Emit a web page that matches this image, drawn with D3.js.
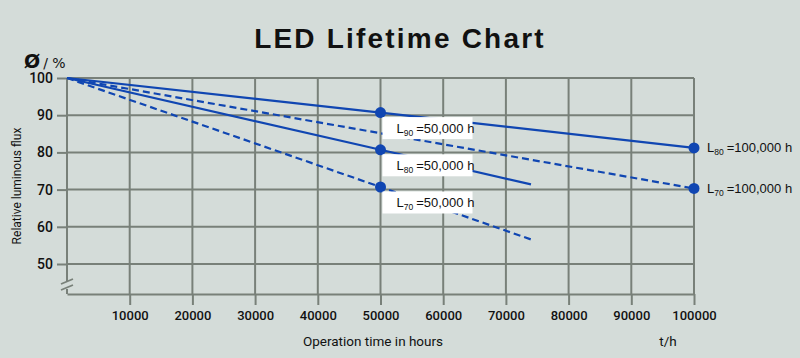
<!DOCTYPE html>
<html>
<head>
<meta charset="utf-8">
<script src="https://cdn.jsdelivr.net/npm/d3@7"></script>
<style>
  html, body { margin: 0; padding: 0; background: #d4dcd9; }
  svg { display: block; }
  .tick text { font-family: Roboto, sans-serif; fill: #111; }
</style>
</head>
<body>
<div id="graphic"></div>
<script>
// data
const xTicks = [10000, 20000, 30000, 40000, 50000, 60000, 70000, 80000, 90000, 100000];
const yTicks = [50, 60, 70, 80, 90, 100];

// hours / relative flux
const solidAHours = [0, 50000, 100000];
const solidAFlux  = [100, 90.7, 81.2];
const dashAHours  = [0, 100000];
const dashAFlux   = [100, 70.3];
const solidBHours = [0, 50000, 74000];
const solidBFlux  = [100, 80.7, 71.4];
const dashBHours  = [0, 50000, 74000];
const dashBFlux   = [100, 70.7, 56.6];

// marked points
const markHours = [50000, 50000, 50000, 100000, 100000];
const markFlux  = [90.7, 80.7, 70.7, 81.2, 70.3];

// labels
const boxLabels   = [["90", "50,000 h"], ["80", "50,000 h"], ["70", "50,000 h"]];
const rightLabels = [["80", "100,000 h"], ["70", "100,000 h"]];

/** CONSTANTS */
const W = 800, H = 358,
  plotL = 67, plotR = 694, plotT = 78, plotB = 294,
  grid = "#788079", blue = "#1046b2";

const svg = d3.select("#graphic").append("svg")
  .attr("width", W)
  .attr("height", H);

svg.append("rect").attr("width", W).attr("height", H).attr("fill", "#d4dcd9");

const x = d3.scaleLinear().domain([0, 100000]).range([plotL, plotR]);
const y = d3.scaleLinear().domain([50, 100]).range([264, plotT]);

// title
svg.append("text")
  .attr("x", 400).attr("y", 48)
  .attr("text-anchor", "middle")
  .attr("font-family", "Liberation Sans, Arial, sans-serif")
  .attr("font-weight", "bold")
  .attr("font-size", 28)
  .attr("letter-spacing", 2.2)
  .attr("fill", "#111")
  .text("LED Lifetime Chart");

// grid
svg.append("g").selectAll("line")
  .data(yTicks)
  .enter().append("line")
  .attr("x1", plotL).attr("x2", plotR)
  .attr("y1", d => y(d)).attr("y2", d => y(d))
  .attr("stroke", grid).attr("stroke-width", 2);

svg.append("g").selectAll("line")
  .data(xTicks)
  .enter().append("line")
  .attr("x1", d => x(d)).attr("x2", d => x(d))
  .attr("y1", plotT).attr("y2", plotB)
  .attr("stroke", grid).attr("stroke-width", 2);

// x axis
const xAxis = d3.axisBottom(x)
  .tickValues(xTicks)
  .tickFormat(d3.format("d"))
  .tickSize(11)
  .tickSizeOuter(0)
  .tickPadding(6);

const gx = svg.append("g")
  .attr("transform", `translate(0,${plotB})`)
  .call(xAxis);
gx.select(".domain").attr("stroke", grid).attr("stroke-width", 2);
gx.selectAll(".tick line").attr("stroke", grid).attr("stroke-width", 2);
gx.selectAll(".tick text").attr("font-size", 13).attr("font-weight", 500);

// y axis
const yAxis = d3.axisLeft(y)
  .tickValues(yTicks)
  .tickSize(10)
  .tickPadding(4);

const gy = svg.append("g")
  .attr("transform", `translate(${plotL},0)`)
  .call(yAxis);
gy.select(".domain").remove();
gy.selectAll(".tick line").attr("stroke", grid).attr("stroke-width", 2);
gy.selectAll(".tick text").attr("font-size", 14).attr("font-weight", 500);

// y axis line with break
svg.append("line")
  .attr("x1", plotL).attr("x2", plotL).attr("y1", plotT).attr("y2", 281)
  .attr("stroke", grid).attr("stroke-width", 2);
svg.append("line")
  .attr("x1", plotL).attr("x2", plotL).attr("y1", 289).attr("y2", plotB)
  .attr("stroke", grid).attr("stroke-width", 2);
[0, 6].forEach(off => {
  svg.append("line")
    .attr("x1", plotL - 6).attr("y1", 284 + off)
    .attr("x2", plotL + 6).attr("y2", 279 + off)
    .attr("stroke", grid).attr("stroke-width", 1.8);
});

// axis titles
svg.append("text")
  .attr("transform", "translate(21,186) rotate(-90)")
  .attr("text-anchor", "middle")
  .attr("font-family", "Roboto, sans-serif")
  .attr("font-size", 12)
  .attr("fill", "#111")
  .text("Relative luminous flux");

svg.append("text")
  .attr("x", 373).attr("y", 346)
  .attr("text-anchor", "middle")
  .attr("font-family", "Roboto, sans-serif")
  .attr("font-size", 13.5)
  .attr("fill", "#111")
  .text("Operation time in hours");

svg.append("text")
  .attr("x", 668).attr("y", 346)
  .attr("text-anchor", "middle")
  .attr("font-family", "Roboto, sans-serif")
  .attr("font-size", 13.5)
  .attr("fill", "#111")
  .text("t/h");

const phi = svg.append("text")
  .attr("x", 24).attr("y", 68)
  .attr("font-family", "DejaVu Sans, sans-serif")
  .attr("fill", "#111");
phi.append("tspan").attr("font-size", 19).attr("font-weight", "bold").text("Ø");
phi.append("tspan").attr("font-size", 14).attr("dx", 3).text("/ %");

// lines
const line = d3.line().x(d => x(d[0])).y(d => y(d[1]));
const series = [
  [solidAHours, solidAFlux, null],
  [dashAHours, dashAFlux, "7,4"],
  [solidBHours, solidBFlux, null],
  [dashBHours, dashBFlux, "7,4"]
];
svg.append("g").selectAll("path")
  .data(series)
  .enter().append("path")
  .attr("d", s => line(d3.zip(s[0], s[1])))
  .attr("fill", "none")
  .attr("stroke", blue)
  .attr("stroke-width", 2.2)
  .attr("stroke-dasharray", s => s[2]);

// points
svg.append("g").selectAll("circle")
  .data(d3.zip(markHours, markFlux))
  .enter().append("circle")
  .attr("cx", d => x(d[0]))
  .attr("cy", d => y(d[1]))
  .attr("r", 5.5)
  .attr("fill", blue);

// boxed labels below the 50000 points
function lifeText(sel, sub, val) {
  sel.append("tspan").text("L");
  sel.append("tspan").attr("font-size", 8.5).attr("dy", 3).text(sub);
  sel.append("tspan").attr("dy", -3).attr("dx", 3).text("=" + val);
}

boxLabels.forEach((lab, i) => {
  const py = y(markFlux[i]);
  svg.append("rect")
    .attr("x", x(50000) + 2).attr("y", py + 4.5)
    .attr("width", 90).attr("height", 22)
    .attr("fill", "#fff");
  const t = svg.append("text")
    .attr("x", x(50000) + 16).attr("y", py + 20)
    .attr("font-family", "Liberation Sans, Arial, sans-serif")
    .attr("font-size", 13)
    .attr("fill", "#111");
  lifeText(t, lab[0], lab[1]);
});

rightLabels.forEach((lab, i) => {
  const t = svg.append("text")
    .attr("x", x(100000) + 13).attr("y", y(markFlux[3 + i]) + 4.5)
    .attr("font-family", "Liberation Sans, Arial, sans-serif")
    .attr("font-size", 13)
    .attr("fill", "#111");
  lifeText(t, lab[0], lab[1]);
});
</script>
</body>
</html>
